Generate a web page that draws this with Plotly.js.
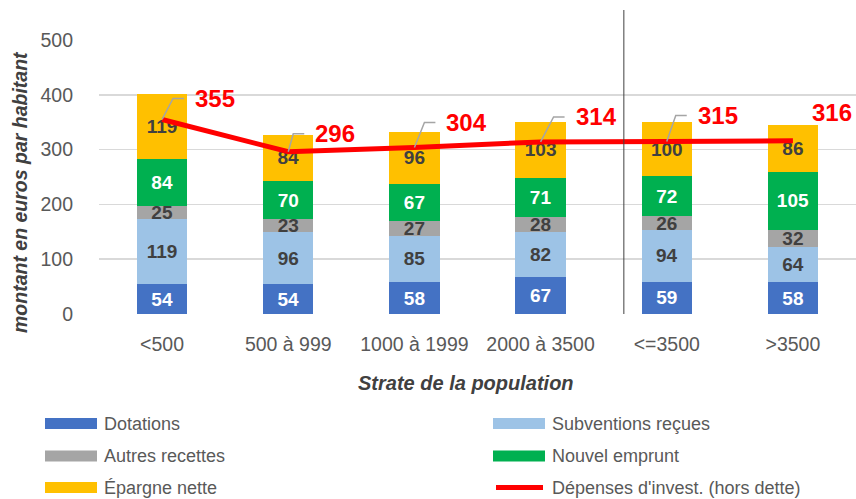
<!DOCTYPE html>
<html><head><meta charset="utf-8">
<script src="https://cdn.plot.ly/plotly-3.0.1.min.js"></script>
<style>html,body{margin:0;padding:0;background:#fff}#c{width:856px;height:499px}</style>
</head><body><div id="c"></div>
<script>
const categories = ['<500', '500 à 999', '1000 à 1999', '2000 à 3500', '<=3500', '>3500'];
const dotations = [54, 54, 58, 67, 59, 58];
const subventions = [119, 96, 85, 82, 94, 64];
const autres = [25, 23, 27, 28, 26, 32];
const emprunt = [84, 70, 67, 71, 72, 105];
const epargne = [119, 84, 96, 103, 100, 86];
const depenses = [355, 296, 304, 314, 315, 316];

const F = '"Liberation Sans", Arial, sans-serif';
// plot geometry (pixels)
const L = 99, T = 40, W = 757, H = 274;
const px = p => (p - L) / W;          // pixel x -> paper
const py = p => (T + H - p) / H;      // pixel y -> paper

function bar(name, y, color, tcolor) {
  return {type: 'bar', name: name, x: categories, y: y,
    marker: {color: color}, text: y.map(String), textposition: 'inside',
    insidetextanchor: 'middle', constraintext: 'none', textangle: 0,
    textfont: {family: F, size: 19, color: tcolor, weight: 'bold'},
    hoverinfo: 'skip', showlegend: false};
}
const barTraces = [
  bar('Dotations', dotations, '#4472C4', '#ffffff'),
  bar('Subventions reçues', subventions, '#9DC3E6', '#404040'),
  bar('Autres recettes', autres, '#A5A5A5', '#404040'),
  bar('Nouvel emprunt', emprunt, '#00B050', '#ffffff'),
  bar('Épargne nette', epargne, '#FFC000', '#404040')
];
const lineTrace = {type: 'scatter', mode: 'lines', name: "Dépenses d'invest. (hors dette)",
  x: categories, y: depenses, line: {color: '#FF0000', width: 5}, hoverinfo: 'skip', showlegend: false};
const traces = barTraces.concat([lineTrace]);

// label placement (pixel offsets from each point)
const offX = [31, 25, 30, 33, 29, 17];
const offY = [21, 18, 25, 25, 26, 28];
const leader = [true, true, true, true, true, false];

const annotations = categories.map((c, i) => ({
  x: c, y: depenses[i], xref: 'x', yref: 'y', text: '<b>' + depenses[i] + '</b>',
  showarrow: false, xanchor: 'left', yanchor: 'middle', xshift: offX[i], yshift: offY[i],
  font: {family: F, size: 24, color: '#FF0000'}
}));
const shapes = [];
categories.forEach((c, i) => {
  if (!leader[i]) return;
  const hx = offX[i] - 9;
  shapes.push({type: 'path', xref: 'x', yref: 'y', xsizemode: 'pixel', ysizemode: 'pixel',
    xanchor: c, yanchor: depenses[i],
    path: 'M0,0 L' + (hx - 11) + ',' + offY[i] + ' L' + hx + ',' + offY[i],
    line: {color: '#A5A5A5', width: 1.5}});
});
shapes.push({type: 'line', xref: 'x', yref: 'paper', x0: 3.66, x1: 3.66, y0: 0, y1: py(10),
  line: {color: '#404040', width: 1}});

// axis titles
annotations.push({xref: 'paper', yref: 'paper', x: px(466), y: py(383), showarrow: false,
  text: '<b><i>Strate de la population</i></b>', font: {family: F, size: 20, color: '#404040'},
  xanchor: 'center', yanchor: 'middle'});
annotations.push({xref: 'paper', yref: 'paper', x: px(20), y: py(192), showarrow: false, textangle: -90,
  text: '<b><i>montant en euros par habitant</i></b>', font: {family: F, size: 19.5, color: '#404040'},
  xanchor: 'center', yanchor: 'middle'});

// custom legend: 2 columns x 3 rows
const legItems = barTraces.map(t => ({name: t.name, color: t.marker.color, kind: 'rect'}))
  .concat([{name: lineTrace.name, color: lineTrace.line.color, kind: 'line'}]);
const colX = [45, 493], rowY = [423.5, 456, 487.5];
legItems.forEach((it, k) => {
  const col = k % 2, row = Math.floor(k / 2);
  const x0 = colX[col], x1 = x0 + 52, yc = rowY[row];
  if (it.kind === 'rect') {
    shapes.push({type: 'rect', xref: 'paper', yref: 'paper', x0: px(x0), x1: px(x1),
      y0: py(yc + 5.5), y1: py(yc - 5.5), fillcolor: it.color, line: {width: 0}});
  } else {
    shapes.push({type: 'line', xref: 'paper', yref: 'paper', x0: px(x0 + 3), x1: px(x1 - 2),
      y0: py(yc), y1: py(yc), line: {color: it.color, width: 5}});
  }
  annotations.push({xref: 'paper', yref: 'paper', x: px(x1 + 5), y: py(yc), showarrow: false,
    text: it.name, xanchor: 'left', yanchor: 'middle', font: {family: F, size: 18, color: '#595959'}});
});

const layout = {
  width: 856, height: 499,
  margin: {l: L, r: 856 - L - W, t: T, b: 499 - T - H},
  paper_bgcolor: '#fff', plot_bgcolor: '#fff',
  barmode: 'stack', bargap: 0.6,
  font: {family: F, color: '#595959'},
  uniformtext: {minsize: 19, mode: 'show'},
  xaxis: {type: 'category', range: [-0.5, 5.5], showgrid: false, zeroline: false,
    showline: false, ticks: '', tickfont: {size: 19.5, color: '#595959'}, ticklabelstandoff: 16},
  yaxis: {range: [0, 500], dtick: 100, gridcolor: '#D9D9D9', gridwidth: 1.5, zeroline: false,
    showline: false, ticks: '', tickfont: {size: 19.5, color: '#595959'}, ticklabelstandoff: 25},
  showlegend: false,
  annotations: annotations, shapes: shapes
};
Plotly.newPlot('c', traces, layout, {displayModeBar: false, staticPlot: true});
</script></body></html>
